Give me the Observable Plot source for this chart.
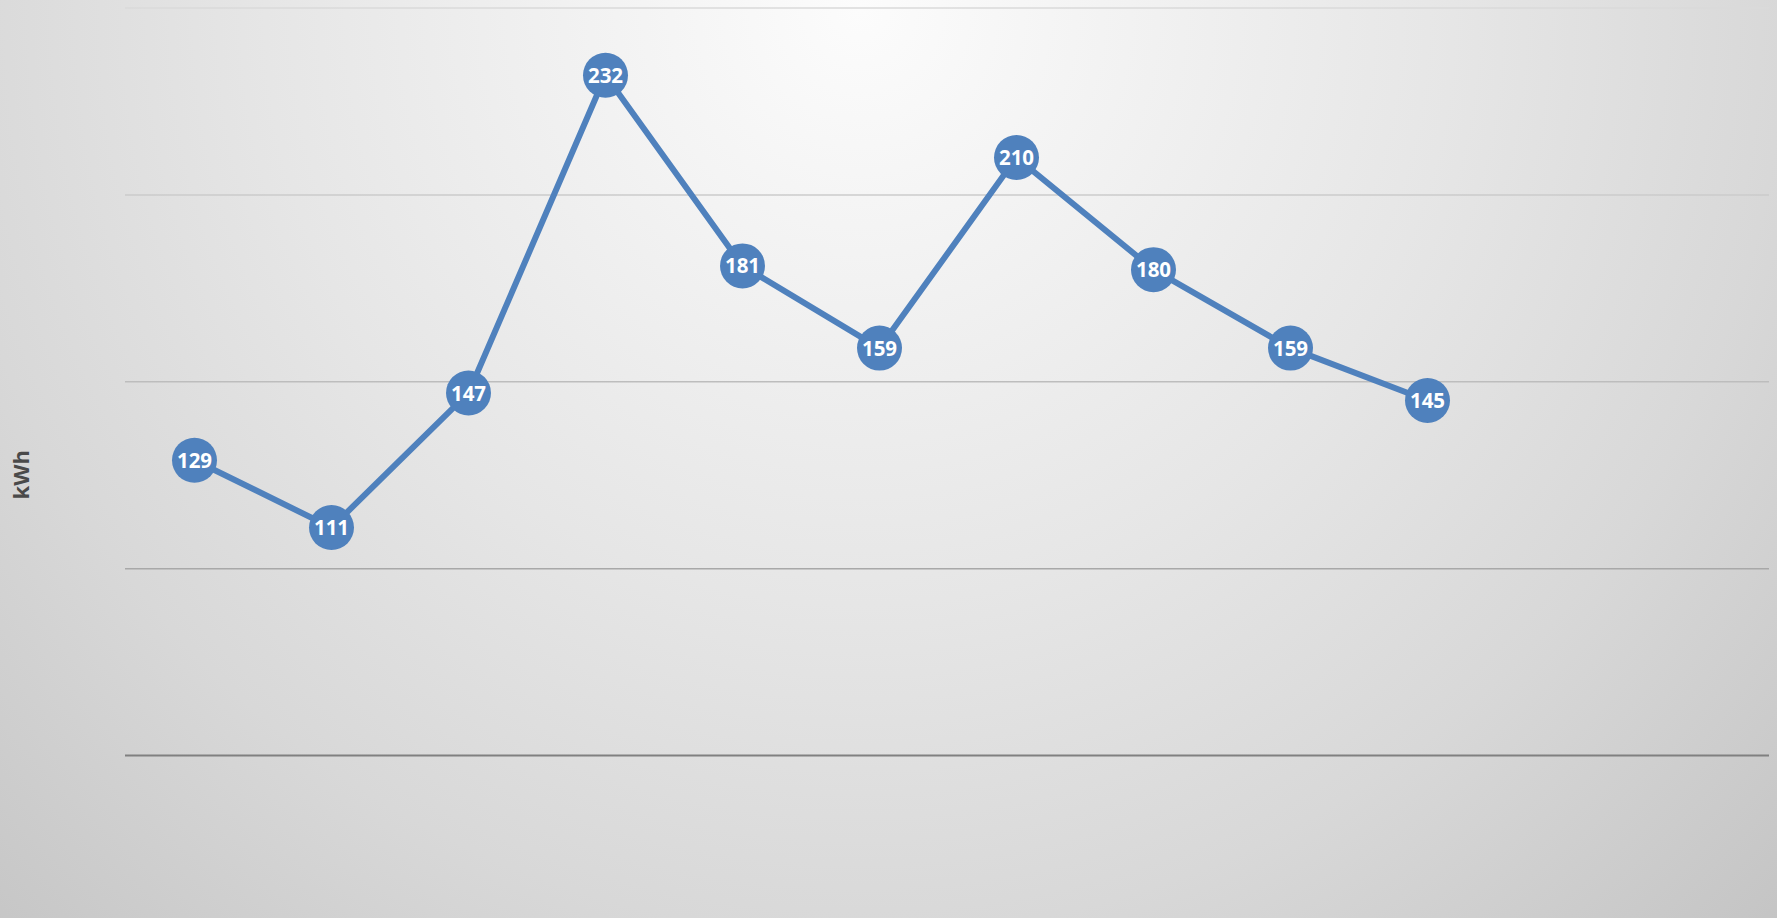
<!DOCTYPE html>
<html>
<head>
<meta charset="utf-8">
<script src="https://cdn.jsdelivr.net/npm/d3@7"></script>
<script src="https://cdn.jsdelivr.net/npm/@observablehq/plot@0.6"></script>
<style>
  html, body { margin: 0; padding: 0; }
  body {
    width: 1777px; height: 918px; overflow: hidden;
    background: radial-gradient(circle 1320px at 860px 10px, #fcfcfc 0%, #e6e6e6 45%, #d8d8d8 70%, #c3c3c3 100%);
  }
  #chart svg { display: block; background: transparent; }
</style>
</head>
<body>
<div id="chart"></div>
<script>
const months = ["Jan", "Feb", "Mar", "Apr", "May", "Jun", "Jul", "Aug", "Sep", "Oct", "Nov", "Dec"];
const values = [129, 111, 147, 232, 181, 159, 210, 180, 159, 145];
const gridTicks = [50, 100, 150, 200, 250];
const yLabel = "kWh";

const data = values.map((v, i) => ({month: months[i], value: v}));

const gridColor = d3.scaleLinear().domain([50, 100, 150, 200, 250])
  .range(["#808080", "#a8a8a8", "#bdbdbd", "#cbcbcb", "#dadada"]);

const chart = Plot.plot({
  width: 1777,
  height: 918,
  marginLeft: 125,
  marginRight: 8,
  marginTop: 7.5,
  marginBottom: 163,
  style: {background: "transparent", fontFamily: "'Open Sans', sans-serif"},
  x: {type: "point", domain: months, padding: 0.5, axis: null},
  y: {domain: [50, 250], axis: null},
  marks: [
    Plot.ruleY(gridTicks, {stroke: d => gridColor(d), strokeWidth: d => d === 50 ? 2 : 1.5}),
    Plot.line(data, {x: "month", y: "value", stroke: "#4f81bd", strokeWidth: 6, strokeLinejoin: "round"}),
    Plot.dot(data, {x: "month", y: "value", r: 22.5, fill: "#4f81bd", stroke: "none"}),
    Plot.text(data, {x: "month", y: "value", text: d => String(d.value), fill: "white", fontWeight: "bold", fontSize: 20.5, dy: 1}),
    Plot.text([yLabel], {frameAnchor: "left", textAnchor: "middle", dx: -104, dy: 93, rotate: -90, text: d => d, fill: "#4a4a4a", fontWeight: "bold", fontSize: 22})
  ]
});
document.getElementById("chart").appendChild(chart);
</script>
</body>
</html>
